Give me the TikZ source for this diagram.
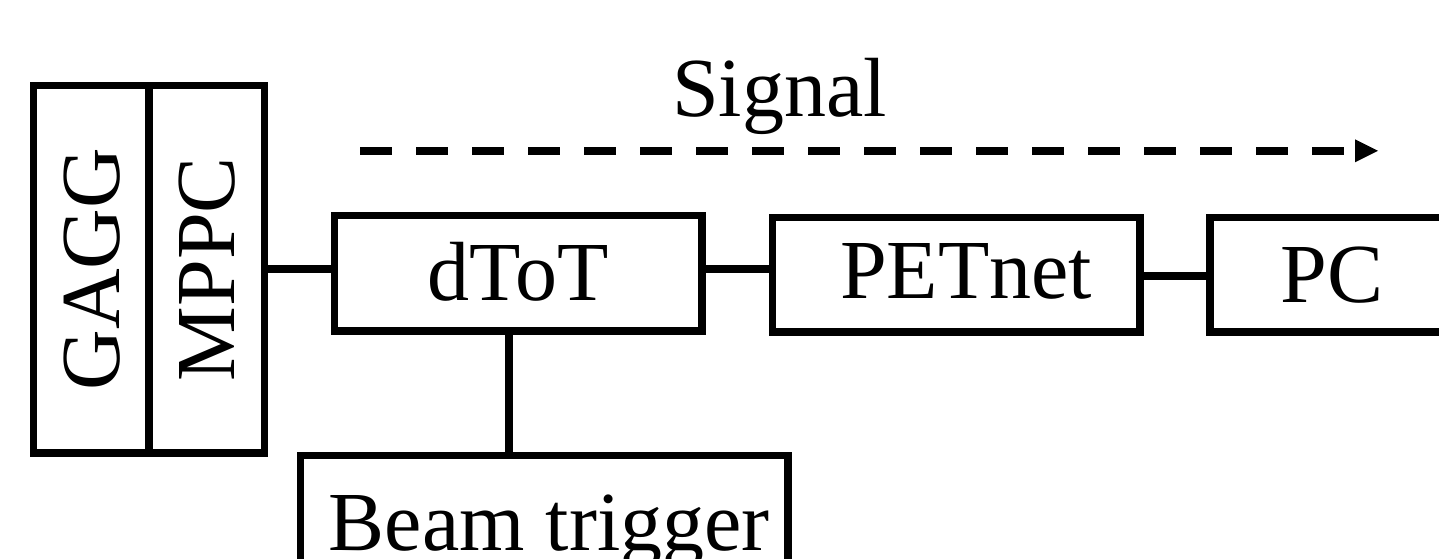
\documentclass[tikz,border=0pt]{standalone}
\usepackage{fontspec}
\setmainfont{Liberation Serif}
\usetikzlibrary{arrows.meta}
\tikzset{
  big/.style={font=\fontsize{42}{50}\selectfont},
  box/.style={big, draw, line width=3.8pt, inner sep=0pt, outer sep=0pt, text height=27.8pt, text depth=0pt},
  wire/.style={line width=3.8pt},
  sig/.style={line width=4pt, dash pattern=on 15.75pt off 12.25pt, -{Triangle[length=11.5pt,width=11.5pt,line width=0pt]}},
}
\begin{document}
\begin{tikzpicture}[x=0.5pt,y=-0.5pt]
\useasboundingbox (0,0) rectangle (1439,558);
\clip (0,0) rectangle (1439,558);
% boxes
\node[box, rotate=90, minimum width=183.75pt, minimum height=57.75pt] (gagg) at (91.25,269.25) {GAGG};
\node[box, rotate=90, minimum width=183.75pt, minimum height=57.75pt] (mppc) at (206.75,269.25) {MPPC};
\node[box, minimum width=183.75pt, minimum height=57.6pt] (dtot) at (518.25,273.1) {dToT\hspace{15pt}};
\node[box, minimum width=183.6pt, minimum height=57.25pt, text depth=4.2pt] (petnet) at (956.1,274.75) {\hspace{10pt}PETnet};
\node[box, minimum width=121.8pt, minimum height=57.25pt] (pc) at (1332,274.75) {PC};
\node[box, minimum width=243.75pt, minimum height=66.6pt] (beam) at (544.25,522.2) {\hspace{5pt}Beam trigger};
% connectors
\coordinate (w2) at (0,269.2);
\coordinate (w3) at (0,276);
\coordinate (w4) at (508.7,0);
\draw[wire] (mppc.south) -- (mppc.south -| dtot.west);
\draw[wire] (dtot.east |- w2) -- (petnet.west |- w2);
\draw[wire] (petnet.east |- w3) -- (pc.west |- w3);
\draw[wire] (dtot.south -| w4) -- (beam.north -| w4);
% signal arrow
\coordinate (sa) at (360,150.8);
\coordinate (sb) at (1378,150.8);
\draw[sig] (sa) -- (sb);
\node[big, inner sep=0pt, anchor=base] (signal) at (779.4,116.7) {Signal};
\end{tikzpicture}
\end{document}
